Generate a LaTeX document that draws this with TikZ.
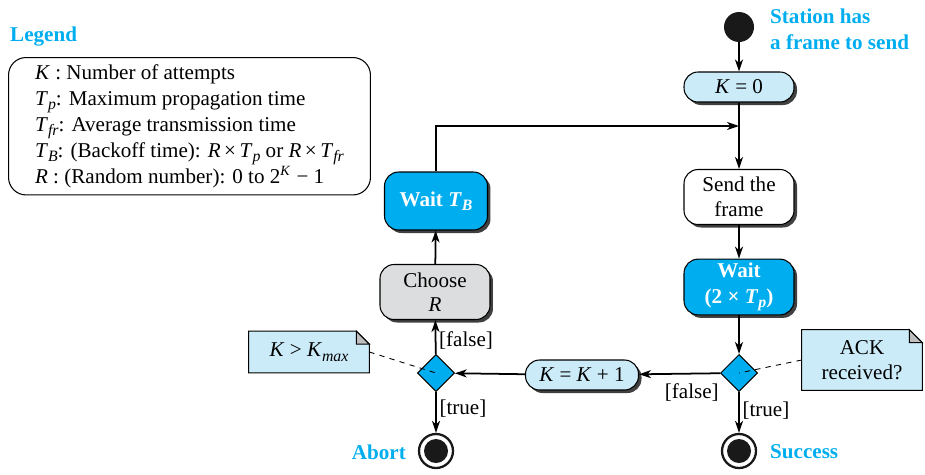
\documentclass[tikz,border=0pt]{standalone}
\usepackage{fontspec}
\setmainfont{Liberation Serif}
\usepackage{xcolor}
\usepackage{tikz}
\usetikzlibrary{shapes.geometric, arrows.meta, positioning, shadows, backgrounds}

\definecolor{cyanfill}{RGB}{0,174,239}
\definecolor{lightfill}{RGB}{204,235,249}
\definecolor{grayfill}{RGB}{220,221,222}
\definecolor{foldgray}{RGB}{190,190,190}

\newcommand{\vi}[1]{\textit{#1}}
\newcommand{\vind}[1]{\raisebox{-0.45ex}{\fontsize{9}{9}\selectfont\textit{#1}}}
\newcommand{\vsub}[2]{\textit{#1}\vind{#2}}

\begin{document}
\begin{tikzpicture}[
  x=0.02cm, y=-0.02cm,
  font=\fontsize{12}{14}\selectfont,
  shd/.style={drop shadow={shadow xshift=0.06cm, shadow yshift=-0.06cm,
              fill=black!75, opacity=1}},
  st/.style={draw, line width=0.6pt, rounded corners=8pt, align=center,
             inner sep=2pt, shd},
  actn/.style={st, fill=lightfill, minimum width=2.2cm, minimum height=0.6cm},
  blok/.style={st, fill=white, minimum width=2.2cm, minimum height=1.1cm},
  cekaj/.style={st, fill=cyanfill, text=white, font=\fontsize{12}{15}\selectfont\bfseries,
                minimum width=2.2cm, minimum height=1.1cm},
  izbor/.style={diamond, draw, line width=0.6pt, fill=cyanfill,
                minimum width=0.74cm, minimum height=0.74cm, inner sep=0pt},
  poc/.style={circle, fill=black!90, minimum size=0.6cm, inner sep=0pt},
  kraj/.style={circle, draw=black!90, line width=1.3pt, fill=white,
               minimum size=0.68cm, inner sep=0pt,
               path picture={\fill[black!90] (path picture bounding box.center) circle (0.24cm);}},
  bilj/.style={minimum width=2.4cm, minimum height=0.82cm, align=center, inner sep=2pt},
  pr/.style={-{Stealth[length=2.4mm, width=1.6mm, inset=0.7mm]}, line width=1pt},
  isp/.style={dashed, line width=0.5pt},
  ozn/.style={inner sep=1.5pt},
  plav/.style={text=cyanfill, font=\fontsize{12}{15}\selectfont\bfseries, align=left}
]
  \useasboundingbox (0,0) rectangle (925,474);

  % right column
  \node[poc] (start) at (739,27) {};
  \node[plav, anchor=west] (stlab) at (764,29) {Station has\\a frame to send};
  \node[actn] (k0) at (739,87) {\vi{K} = 0};
  \coordinate (spoj) at (739,126);
  \node[blok] (send) at (739,197) {Send the\\frame};
  \node[cekaj] (wait) at (739,287) {Wait\\(2 × \textit{T}\vind{\bfseries p})};
  \node[izbor] (ack) at (739,373) {};
  \node[kraj] (succ) at (739,451) {};
  \node[plav, anchor=west] (succlab) at (764,452) {Success};

  % middle and left column
  \node[actn, minimum width=2.26cm] (inc) at (582,375) {\vi{K} = \vi{K} + 1};
  \node[izbor] (kmax) at (436,373) {};
  \node[kraj] (abort) at (436,451) {};
  \node[plav, anchor=east] (ablab) at (412,452) {Abort};
  \node[blok, fill=grayfill] (choose) at (435,292) {Choose\\\vi{R}};
  \node[cekaj, minimum width=2.06cm, minimum height=1.16cm] (waitb) at (436,201)
       {Wait \textit{T}\vind{\bfseries B}};

  % notes
  \node[bilj, minimum height=1.2cm] (ackn) at (862,360) {ACK\\received?};
  \node[bilj] (kmaxn) at (309,352) {\vi{K} > \vsub{K}{max}};
  \begin{scope}[on background layer]
    \foreach \n in {ackn, kmaxn} {
      \draw[line width=0.6pt, fill=lightfill] (\n.south west) -- (\n.north west)
        -- ([xshift=-0.26cm]\n.north east) -- ([yshift=-0.26cm]\n.north east)
        -- (\n.south east) -- cycle;
      \draw[line width=0.6pt, fill=foldgray] ([xshift=-0.26cm]\n.north east)
        -- ([xshift=-0.26cm, yshift=-0.26cm]\n.north east)
        -- ([yshift=-0.26cm]\n.north east) -- cycle;
    }
  \end{scope}

  % legend
  \node[plav, anchor=west] (legt) at (4,37) {Legend};
  \node[draw, line width=0.6pt, rounded corners=10pt, align=left, anchor=north west,
        minimum width=7.24cm, minimum height=2.66cm, inner xsep=4pt, inner ysep=4pt,
        font=\fontsize{12}{14.8}\selectfont] (leg) at (8,57)
    {\vi{K} : Number of attempts\\
     \vsub{T}{p}: Maximum propagation time\\
     \vsub{T}{fr}: Average transmission time\\
     \vsub{T}{B}: (Backoff time): \vi{R}\,×\,\vsub{T}{p} or \vi{R}\,×\,\vsub{T}{fr}\\
     \vi{R} : (Random number): 0 to 2\textsuperscript{\vi{K}} − 1};

  % connectors
  \draw[pr] (start) -- (k0);
  \draw[pr] (k0) -- (send);
  \draw[pr] (waitb.north) |- (spoj);
  \draw[pr] (send) -- (wait);
  \draw[pr] (wait) -- (ack);
  \draw[pr] (ack) -- node[ozn, below, pos=0.35, yshift=-4pt] {[false]} (inc);
  \draw[pr] (ack) -- node[ozn, right, pos=0.45] {[true]} (succ);
  \draw[pr] (inc) -- (kmax);
  \draw[pr] (kmax) -- node[ozn, right, pos=0.4] {[false]} (choose);
  \draw[pr] (kmax) -- node[ozn, right, pos=0.4] {[true]} (abort);
  \draw[pr] (choose) -- (waitb);
  \draw[isp] (ackn.west) -- (ack.center);
  \draw[isp] (kmaxn.east) -- (kmax.center);
\end{tikzpicture}
\end{document}
